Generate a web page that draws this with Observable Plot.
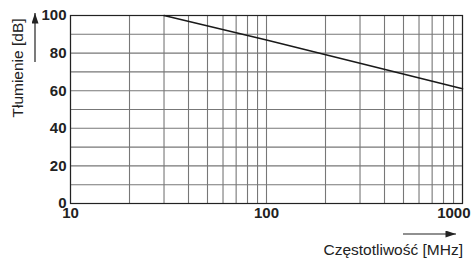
<!DOCTYPE html>
<html><head><meta charset="utf-8">
<script src="https://cdn.jsdelivr.net/npm/d3@7"></script>
<script src="https://cdn.jsdelivr.net/npm/@observablehq/plot@0.6"></script>
<style>body{margin:0;background:#fff;font-family:"Liberation Sans",Arial,sans-serif}</style>
</head><body><div id="chart"></div>
<script>
const freq = [30, 100, 1000];
const atten = [100, 87, 61];
const xTicks = [10, 100, 1000];
const yTicks = [0, 20, 40, 60, 80, 100];
const xGrid = [10,20,30,40,50,60,70,80,90,100,200,300,400,500,600,700,800,900,1000];
const yGrid = [0,10,20,30,40,50,60,70,80,90,100];
const yLabel = "Tłumienie [dB]";
const xLabel = "Częstotliwość [MHz]";

const data = freq.map((f, i) => ({f, a: atten[i]}));
const W = 474, H = 259, ml = 70, mr = 12, mt = 15, mb = 56;
const tickStyle = {fontSize: 15, fontWeight: "bold", fill: "#222"};
const plot = Plot.plot({
  width: W, height: H,
  marginLeft: ml, marginRight: mr, marginTop: mt, marginBottom: mb,
  style: {fontFamily: "'Liberation Sans', Arial, sans-serif", background: "#fff", color: "#222"},
  x: {type: "log", domain: [10, 1000], axis: null},
  y: {domain: [0, 100], axis: null},
  marks: [
    Plot.ruleX(xGrid, {stroke: "#777", strokeWidth: 1.1}),
    Plot.ruleY(yGrid, {stroke: "#777", strokeWidth: 1.1}),
    Plot.frame({stroke: "#222", strokeWidth: 1.2}),
    Plot.line(data, {x: "f", y: "a", stroke: "#1a1a1a", strokeWidth: 1.6}),
    Plot.text(yTicks, {y: d => d, frameAnchor: "left", dx: -4, textAnchor: "end", text: d => String(d), ...tickStyle}),
    Plot.text(xTicks.slice(0, 2), {x: d => d, frameAnchor: "bottom", dy: 14, text: d => String(d), ...tickStyle}),
    Plot.text(xTicks.slice(2), {x: d => d, frameAnchor: "bottom", dy: 14, dx: 8, textAnchor: "end", text: d => String(d), ...tickStyle})
  ]
});
document.getElementById("chart").append(plot);
const svg = d3.select(plot);
const defs = svg.append("defs");
defs.append("marker").attr("id","ah").attr("viewBox","0 0 12 8").attr("refX",12).attr("refY",4)
  .attr("markerWidth",12).attr("markerHeight",7).attr("markerUnits","userSpaceOnUse").attr("orient","auto")
  .append("path").attr("d","M0,0 L12,4 L0,8 Z").attr("fill","#222");
// y arrow
svg.append("line").attr("x1",35).attr("x2",35).attr("y1",62).attr("y2",13)
  .attr("stroke","#222").attr("stroke-width",1.2).attr("marker-end","url(#ah)");
svg.append("text").attr("transform","translate(23,68) rotate(-90)").attr("text-anchor","middle")
  .attr("font-size",15.5).attr("fill","#222").text(yLabel);
// x arrow
svg.append("line").attr("x1",403).attr("x2",456).attr("y1",234).attr("y2",234)
  .attr("stroke","#222").attr("stroke-width",1.2).attr("marker-end","url(#ah)");
svg.append("text").attr("x",463).attr("y",255).attr("text-anchor","end")
  .attr("font-size",15.5).attr("fill","#222").text(xLabel);
</script></body></html>
